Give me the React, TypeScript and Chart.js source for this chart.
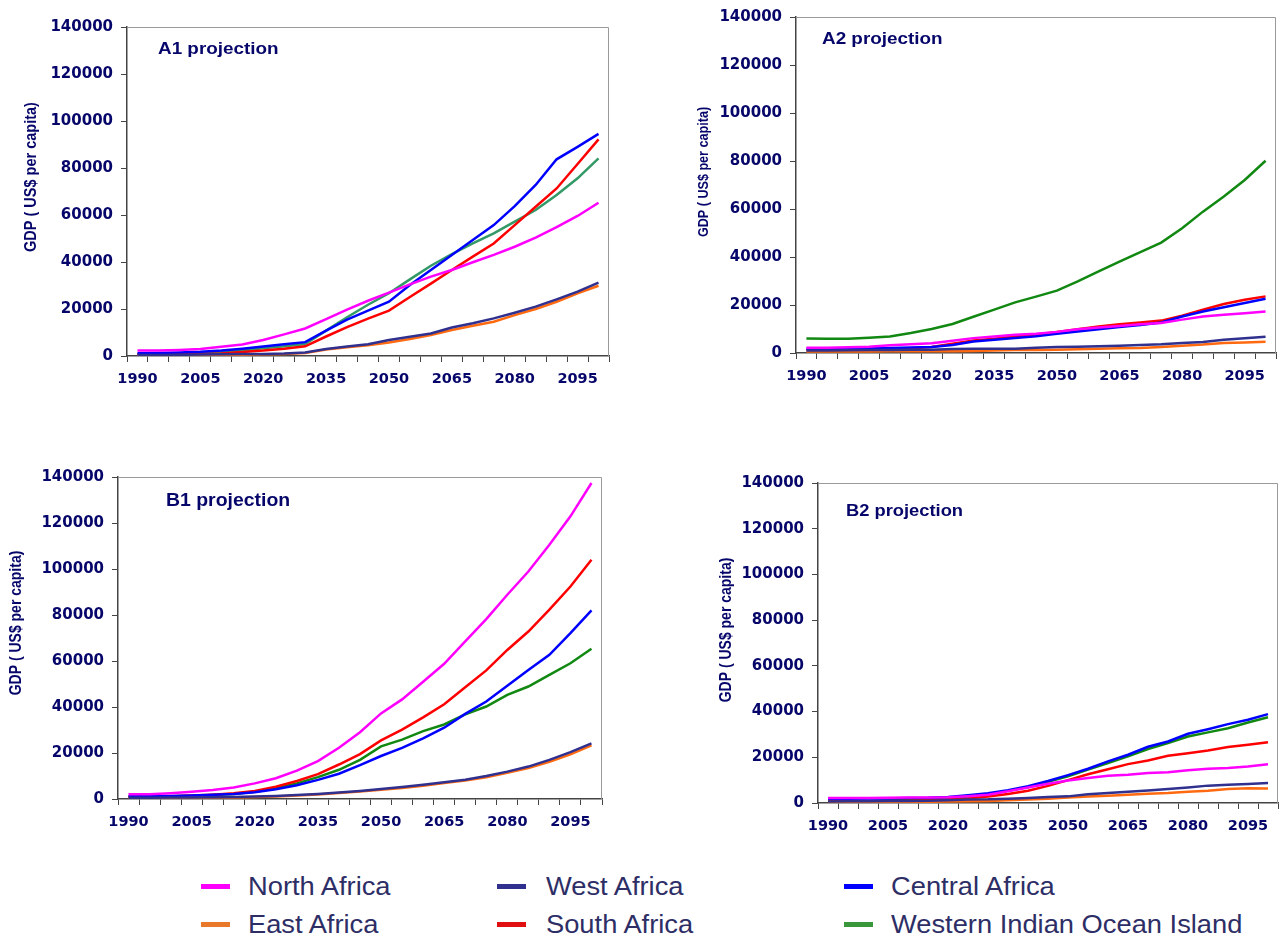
import React, { useEffect, useRef } from 'react';
import { Chart, registerables } from 'chart.js';

Chart.register(...registerables);

// ---------- categories / ticks ----------
const YEARS = ['1990', '1995', '2000', '2005', '2010', '2015', '2020', '2025', '2030', '2035', '2040', '2045',
  '2050', '2055', '2060', '2065', '2070', '2075', '2080', '2085', '2090', '2095', '2100'];
const LABEL_EVERY = 3;
const Y_MAX = 140000;
const Y_STEP = 20000;
const SERIES_NAMES = ['North Africa', 'West Africa', 'Central Africa', 'East Africa', 'South Africa', 'Western Indian Ocean Island'];

// ---------- A1 ----------
const A1_NORTH = [2300, 2300, 2600, 3000, 3900, 4900, 6800, 9200, 11700, 15700, 19700, 23500, 27000, 30500, 33800, 36600, 39900, 43000, 46500, 50400, 54800, 59600, 65200];
const A1_WEST = [400, 450, 500, 600, 700, 800, 900, 1100, 1500, 3000, 4000, 5000, 6800, 8200, 9600, 12100, 13900, 16000, 18400, 21000, 24100, 27400, 31200];
const A1_CENTRAL = [1200, 1300, 1500, 1800, 2300, 3100, 4000, 5000, 5900, 10800, 15500, 19300, 23100, 30200, 36600, 43000, 49400, 55700, 63800, 72800, 83700, 89000, 94500];
const A1_EAST = [200, 250, 300, 350, 450, 550, 700, 900, 1300, 2800, 3700, 4600, 5700, 7200, 8900, 11100, 12900, 14600, 17400, 20000, 23100, 26700, 29900];
const A1_SOUTH = [700, 750, 850, 1000, 1100, 1700, 2300, 3100, 4100, 8300, 12300, 15900, 19300, 25100, 30800, 36600, 42300, 47900, 55700, 63500, 71300, 81700, 92200];
const A1_WIOI = [800, 850, 1000, 1200, 1700, 2300, 3300, 4100, 5100, 10800, 16500, 21800, 26700, 32600, 38400, 43400, 47900, 52200, 57200, 62100, 68500, 75600, 84100];

// ---------- A2 ----------
const A2_NORTH = [2200, 2200, 2400, 2600, 3200, 3600, 4100, 5100, 6200, 6900, 7600, 8000, 8800, 9900, 10600, 11300, 12000, 12500, 13900, 15200, 15900, 16600, 17300];
const A2_WEST = [1000, 1050, 1100, 1200, 1300, 1350, 1400, 1700, 1800, 1800, 1800, 2200, 2500, 2600, 2800, 3000, 3300, 3600, 4200, 4600, 5500, 6100, 6800];
const A2_CENTRAL = [1800, 1800, 1900, 2000, 2100, 2300, 2500, 3300, 4800, 5500, 6200, 7000, 8000, 9000, 9900, 10800, 11700, 12700, 15200, 17300, 19100, 20800, 22600];
const A2_EAST = [600, 600, 650, 650, 700, 700, 700, 750, 800, 1000, 1200, 1300, 1400, 1600, 1800, 1950, 2100, 2500, 3000, 3500, 4200, 4400, 4700];
const A2_SOUTH = [1400, 1400, 1500, 1600, 1800, 2000, 2500, 3900, 5200, 5900, 6900, 7700, 8800, 9900, 11000, 12000, 12700, 13500, 15500, 18000, 20400, 22200, 23600];
const A2_WIOI = [6000, 5900, 5900, 6400, 6900, 8300, 10000, 12100, 15100, 18100, 21100, 23500, 26000, 29800, 34000, 38100, 42000, 46000, 52000, 58900, 65200, 72100, 80100];

// ---------- B1 ----------
const B1_NORTH = [2100, 2100, 2500, 3100, 3900, 5000, 6800, 9000, 12300, 16500, 22300, 29000, 37200, 43300, 51000, 58800, 68500, 78200, 88800, 98900, 110500, 122900, 137400];
const B1_WEST = [500, 550, 600, 700, 800, 900, 1100, 1300, 1700, 2200, 2800, 3500, 4300, 5200, 6200, 7300, 8400, 10000, 11900, 14100, 17000, 20400, 24200];
const B1_CENTRAL = [1200, 1200, 1300, 1500, 1800, 2200, 2900, 4200, 6000, 8300, 11000, 14700, 18700, 22200, 26400, 31000, 37000, 42400, 49200, 56100, 62700, 72100, 82000];
const B1_EAST = [300, 350, 400, 500, 600, 700, 900, 1100, 1500, 2000, 2600, 3300, 4000, 4800, 5800, 6900, 8000, 9500, 11400, 13500, 16200, 19400, 23300];
const B1_SOUTH = [1000, 1000, 1200, 1500, 1900, 2500, 3500, 5300, 7800, 10800, 15000, 19500, 25500, 30200, 35500, 41200, 48600, 55900, 64800, 72800, 82300, 92400, 104000];
const B1_WIOI = [1000, 1000, 1100, 1300, 1700, 2200, 3100, 4700, 6800, 9500, 12700, 17000, 22900, 25800, 29500, 32400, 36800, 40200, 45300, 48900, 54000, 59000, 65300];

// ---------- B2 ----------
const B2_NORTH = [2200, 2200, 2200, 2300, 2400, 2400, 2500, 3000, 3600, 5100, 6800, 8400, 9800, 10900, 11900, 12400, 13100, 13500, 14300, 15000, 15300, 16000, 17000];
const B2_WEST = [700, 750, 800, 850, 900, 1000, 1200, 1500, 1600, 1900, 2200, 2600, 2900, 3800, 4400, 4900, 5500, 6100, 6800, 7600, 8000, 8300, 8700];
const B2_CENTRAL = [1900, 1900, 2000, 2000, 2200, 2300, 2600, 3400, 4300, 5600, 7300, 9600, 12200, 15000, 18200, 21100, 24600, 26900, 30300, 32300, 34500, 36400, 38900];
const B2_EAST = [400, 400, 450, 500, 550, 600, 650, 750, 900, 1200, 1500, 1900, 2400, 2800, 3200, 3600, 4100, 4400, 4900, 5400, 6100, 6500, 6300];
const B2_SOUTH = [700, 750, 800, 900, 1000, 1200, 1500, 2000, 2800, 3900, 5400, 7500, 10000, 12600, 14800, 17000, 18600, 20700, 21800, 23000, 24500, 25500, 26600];
const B2_WIOI = [900, 950, 1000, 1100, 1300, 1500, 2000, 2800, 3900, 5300, 7000, 9300, 11700, 14600, 17500, 20400, 23600, 26200, 29100, 30900, 32700, 35200, 37500];

// ---------- styles ----------
const C_NORTH = '#FF00FF';
const C_WEST = '#30308F';
const C_CENTRAL = '#0000FF';
const C_EAST = '#FF6A10';
const C_SOUTH = '#FF0000';
const C_GREEN_A1 = '#339966';
const C_GREEN = '#118811';
const TEXT_NAVY = '#06066a';
const AXIS_COLOR = '#444444';
const TICK_FONT = "'DejaVu Sans', 'Liberation Sans', sans-serif";
const ARIAL = "'Liberation Sans', Arial, sans-serif";

type Panel = {
  title: string;
  series: number[][];
  green: string;
  cx: number; cy: number; cw: number; ch: number;
  wY: number; padT: number; padR: number;
  titleX: number; titleY: number; titleSize: number;
  yTitleX: number; yTitleY: number; yTitleSize: number;
};

const PANELS: Panel[] = [
  { title: 'A1 projection', series: [A1_NORTH, A1_WEST, A1_CENTRAL, A1_EAST, A1_SOUTH, A1_WIOI], green: C_GREEN_A1,
    cx: 0, cy: 0, cw: 613, ch: 396, wY: 127, padT: 27, padR: 4,
    titleX: 158, titleY: 49, titleSize: 17, yTitleX: 31, yTitleY: 177, yTitleSize: 14.5 },
  { title: 'A2 projection', series: [A2_NORTH, A2_WEST, A2_CENTRAL, A2_EAST, A2_SOUTH, A2_WIOI], green: C_GREEN,
    cx: 640, cy: 0, cw: 640, ch: 393, wY: 156, padT: 17, padR: 4,
    titleX: 822, titleY: 39, titleSize: 17, yTitleX: 704, yTitleY: 172, yTitleSize: 12.6 },
  { title: 'B1 projection', series: [B1_NORTH, B1_WEST, B1_CENTRAL, B1_EAST, B1_SOUTH, B1_WIOI], green: C_GREEN,
    cx: 0, cy: 440, cw: 606, ch: 399, wY: 118, padT: 37, padR: 4,
    titleX: 166, titleY: 501, titleSize: 17.5, yTitleX: 16, yTitleY: 623, yTitleSize: 14 },
  { title: 'B2 projection', series: [B2_NORTH, B2_WEST, B2_CENTRAL, B2_EAST, B2_SOUTH, B2_WIOI], green: C_GREEN,
    cx: 640, cy: 440, cw: 642, ch: 403, wY: 178, padT: 43, padR: 4,
    titleX: 846, titleY: 511, titleSize: 16.5, yTitleX: 726, yTitleY: 630, yTitleSize: 14 },
];

const LEGEND_ROWS: [string, string][][] = [
  [[SERIES_NAMES[0], C_NORTH], [SERIES_NAMES[1], C_WEST], [SERIES_NAMES[2], C_CENTRAL]],
  [[SERIES_NAMES[3], '#E8782A'], [SERIES_NAMES[4], '#E01010'], [SERIES_NAMES[5], '#3A963A']],
];
const LEGEND_SWATCH_X = [201, 497, 844];
const LEGEND_TEXT_X = [248, 546, 891];
const LEGEND_ROW_Y = [886, 924];

const decorPlugin = {
  id: 'decor',
  afterDraw(chart: any, _args: any, opts: any) {
    const { ctx, chartArea: a } = chart;
    ctx.save();
    // light frame on top and right
    ctx.strokeStyle = '#9a9a9a';
    ctx.lineWidth = 1;
    const rx = Math.round(a.right) - 0.5;
    const ty = Math.round(a.top) + 0.5;
    ctx.beginPath();
    ctx.moveTo(a.left, ty);
    ctx.lineTo(rx, ty);
    ctx.lineTo(rx, a.bottom);
    ctx.stroke();
    // panel title
    ctx.fillStyle = TEXT_NAVY;
    ctx.textBaseline = 'middle';
    ctx.textAlign = 'left';
    ctx.save();
    ctx.translate(opts.titleX, opts.titleY);
    ctx.scale(1.11, 1);
    ctx.font = `bold ${opts.titleSize}px ${ARIAL}`;
    ctx.fillText(opts.title, 0, 0);
    ctx.restore();
    // y axis title
    ctx.save();
    ctx.translate(opts.yTitleX, opts.yTitleY);
    ctx.rotate(-Math.PI / 2);
    ctx.scale(1, 1.2);
    ctx.textAlign = 'center';
    ctx.font = `bold ${opts.yTitleSize}px ${ARIAL}`;
    ctx.fillText('GDP ( US$ per capita)', 0, 0);
    ctx.restore();
    ctx.restore();
  },
};

function ChartPanel({ p }: { p: Panel }) {
  const ref = useRef<HTMLCanvasElement>(null);
  useEffect(() => {
    if (!ref.current) return;
    const colors = [C_NORTH, C_WEST, C_CENTRAL, C_EAST, C_SOUTH, p.green];
    const chart = new Chart(ref.current, {
      type: 'line',
      data: {
        labels: YEARS,
        datasets: SERIES_NAMES.map((name, k) => ({
          label: name,
          data: p.series[k],
          borderColor: colors[k],
          backgroundColor: colors[k],
          borderWidth: 2.5,
          pointRadius: 0,
          tension: 0,
          fill: false,
        })),
      },
      options: {
        responsive: false,
        animation: false,
        devicePixelRatio: 1,
        events: [],
        layout: { padding: { left: 0, top: p.padT, right: p.padR, bottom: 0 } },
        plugins: {
          legend: { display: false },
          tooltip: { enabled: false },
          decor: {
            title: p.title,
            titleX: p.titleX - p.cx, titleY: p.titleY - p.cy, titleSize: p.titleSize,
            yTitleX: p.yTitleX - p.cx, yTitleY: p.yTitleY - p.cy, yTitleSize: p.yTitleSize,
          },
        } as any,
        scales: {
          x: {
            type: 'category',
            offset: true,
            grid: { offset: true, drawOnChartArea: false, drawTicks: true, tickLength: 6, color: AXIS_COLOR, lineWidth: 1 },
            border: { display: true, color: AXIS_COLOR, width: 1.5 },
            ticks: {
              autoSkip: false,
              maxRotation: 0,
              minRotation: 0,
              padding: 9,
              color: TEXT_NAVY,
              font: { family: TICK_FONT, size: 14.5, weight: 'bold' },
              callback: (_v: any, i: number) => (i % LABEL_EVERY === 0 ? YEARS[i] : ''),
            },
            afterFit: (s: any) => { s.height = 40; },
          },
          y: {
            min: 0,
            max: Y_MAX,
            grid: { drawOnChartArea: false, drawTicks: true, tickLength: 6, color: AXIS_COLOR, lineWidth: 1 },
            border: { display: true, color: AXIS_COLOR, width: 1.5 },
            ticks: {
              stepSize: Y_STEP,
              padding: 8,
              color: TEXT_NAVY,
              font: { family: TICK_FONT, size: 15, weight: 'bold' },
              callback: (v: any) => String(v),
            },
            afterFit: (s: any) => { s.width = p.wY; },
          },
        },
      } as any,
      plugins: [decorPlugin],
    });
    return () => chart.destroy();
  }, [p]);
  return (
    <div style={{ position: 'absolute', left: p.cx, top: p.cy, width: p.cw, height: p.ch }}>
      <canvas ref={ref} width={p.cw} height={p.ch} style={{ display: 'block', width: p.cw, height: p.ch }} />
    </div>
  );
}

function Legend() {
  return (
    <>
      {LEGEND_ROWS.map((row, r) =>
        row.map(([name, color], c) => (
          <React.Fragment key={`${r}-${c}`}>
            <div style={{ position: 'absolute', left: LEGEND_SWATCH_X[c], top: LEGEND_ROW_Y[r] - 2.5, width: 29, height: 5, background: color }} />
            <div style={{
              position: 'absolute', left: LEGEND_TEXT_X[c], top: LEGEND_ROW_Y[r] - 15, height: 30, lineHeight: '30px',
              fontFamily: ARIAL, fontSize: 25.5, color: '#2e2e66', whiteSpace: 'nowrap',
              transform: 'scaleX(1.07)', transformOrigin: 'left center',
            }}>{name}</div>
          </React.Fragment>
        ))
      )}
    </>
  );
}

export default function App() {
  return (
    <div style={{ position: 'absolute', left: 0, top: 0, width: 1282, height: 936, overflow: 'hidden', background: '#ffffff' }}>
      {PANELS.map((p) => <ChartPanel key={p.title} p={p} />)}
      <Legend />
    </div>
  );
}
